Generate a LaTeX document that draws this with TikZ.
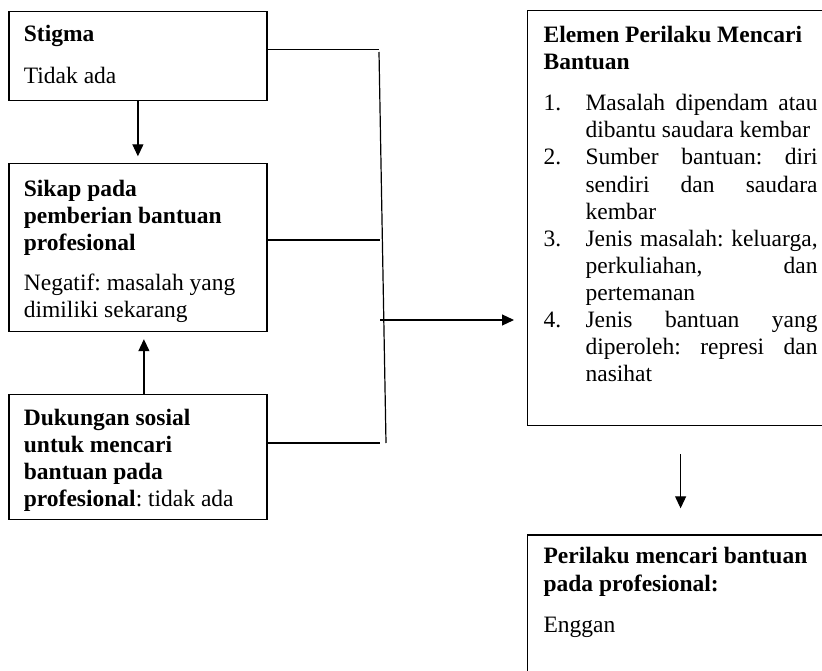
\documentclass[tikz,border=0pt]{standalone}
\usepackage{fontspec}
\setmainfont{Liberation Serif}
\usetikzlibrary{arrows.meta}
% top-aligned text block of fixed width and height
\newcommand\cellbody[3]{\parbox[t][#2][t]{#1}{\frenchspacing#3}}
% list item helpers: justified first lines and indented follow-on lines
\newcommand\itemj[2]{\makebox[42pt][l]{#1}\makebox[232pt][s]{#2}}
\newcommand\itemcont[1]{\hspace*{42pt}#1}
\newcommand\itemcontj[1]{\hspace*{42pt}\makebox[232pt][s]{#1}}
\begin{document}
\begin{tikzpicture}[x=1pt,y=1pt,
  box/.style={draw, line width=1.2pt, anchor=north west, inner xsep=15pt,
    inner ysep=0pt, font=\fontsize{23.5}{27.1}\selectfont},
  wire/.style={line width=1.2pt},
  arr/.style={line width=1.2pt, -{Triangle[length=12pt,width=11pt]}}]
\useasboundingbox (0,0) rectangle (822,-671);
\clip (0,0) rectangle (822,-671);

% left column
\node[box] (stigma) at (8.3,-10.7) {\cellbody{228pt}{89.3pt}{%
  \rule{0pt}{30pt}\textbf{Stigma}\\[15.6pt]
  Tidak ada}};
\node[box] (sikap) at (8.3,-163.3) {\cellbody{228pt}{167.7pt}{%
  \rule{0pt}{32.5pt}\textbf{Sikap pada}\\
  \textbf{pemberian bantuan}\\
  \textbf{profesional}\\[13pt]
  Negatif: masalah yang\\
  dimiliki sekarang}};
\node[box] (dukungan) at (8.3,-394) {\cellbody{228pt}{125pt}{%
  \rule{0pt}{31pt}\textbf{Dukungan sosial}\\
  \textbf{untuk mencari}\\
  \textbf{bantuan pada}\\
  \textbf{profesional}: tidak ada}};

% right column
\node[box, inner xsep=16pt] (elemen) at (527,-10) {\cellbody{274pt}{415pt}{%
  \rule{0pt}{32pt}\textbf{Elemen Perilaku Mencari}\\
  \textbf{Bantuan}\\[14pt]
  \itemj{1.}{Masalah dipendam atau}\\
  \itemcont{dibantu saudara kembar}\\
  \itemj{2.}{Sumber bantuan: diri}\\
  \itemcontj{sendiri dan saudara}\\
  \itemcont{kembar}\\
  \itemj{3.}{Jenis masalah: keluarga,}\\
  \itemcontj{perkuliahan, dan}\\
  \itemcont{pertemanan}\\
  \itemj{4.}{Jenis bantuan yang}\\
  \itemcontj{diperoleh: represi dan}\\
  \itemcont{nasihat}}};
\node[box, inner xsep=16pt] (perilaku) at (527,-534.3) {\cellbody{274pt}{200pt}{%
  \rule{0pt}{29pt}\textbf{Perilaku mencari bantuan}\\
  \textbf{pada profesional:}\\[14pt]
  Enggan}};

% junction points of the collecting bracket
\coordinate (j1) at (379,-49.3);
\coordinate (jtop) at (379,-52);
\coordinate (j2) at (380,-240);
\coordinate (jA) at (380,-320);
\coordinate (j3) at (380,-443);
\coordinate (jbot) at (386,-443);

% arrows between the left boxes
\draw[arr, shorten >=7pt] (stigma.south) -- (sikap.north);
\draw[arr, shorten >=7pt] ([xshift=6pt]dukungan.north) -- ([xshift=6pt]sikap.south);

% bracket collecting the three factors
\draw[wire] (stigma.east |- j1) -- (j1);
\draw[wire] (sikap.east |- j2) -- (j2);
\draw[wire] (dukungan.east |- j3) -- (j3);
\draw[wire] (jtop) -- (jbot);
\draw[arr, shorten >=13pt] (jA) -- (elemen.west |- jA);

% result
\draw[arr, shorten <=28pt, shorten >=26pt] (elemen.south) -- (perilaku.north);
\end{tikzpicture}
\end{document}
